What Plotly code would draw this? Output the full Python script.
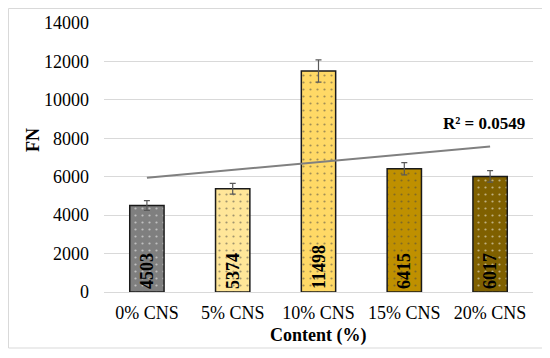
import numpy as np
import plotly.graph_objects as go

categories = ["0% CNS", "5% CNS", "10% CNS", "15% CNS", "20% CNS"]
values = [4503, 5374, 11498, 6415, 6017]
errors = [250, 280, 580, 315, 300]
colors = ["#7F7F7F", "#FFE699", "#FFD966", "#BF9000", "#7F6000"]
y_ticks = [0, 2000, 4000, 6000, 8000, 10000, 12000, 14000]
r2_label = "R² = 0.0549"

FONT = "Liberation Serif, Times New Roman, serif"

# page has an 8px body margin; work in screen pixels and convert
OFF = 8
FW, FH = 550 - OFF, 358 - OFF
L, R, T, B = 104, 533, 23, 292  # plot area in screen pixels
W, H = R - L, B - T

def px(x):
    return (x - L) / W

def py(y):
    return (B - y) / H

# linear trendline from data
xs = np.arange(1, len(values) + 1)
slope, intercept = np.polyfit(xs, values, 1)
trend = slope * xs + intercept

fig = go.Figure()
fig.add_trace(go.Bar(
    x=categories, y=values,
    width=0.4,
    marker=dict(color=colors, line=dict(color="#1a1a1a", width=1.5),
                pattern=dict(shape=".", fgcolor="rgba(255,255,255,0.6)", size=7, solidity=0.08)),
    error_y=dict(type="data", array=errors, color="#595959", thickness=1.2, width=3),
    text=[str(v) for v in values], textposition="inside", insidetextanchor="start",
    textangle=-90, textfont=dict(family=FONT, size=18, color="black", weight="bold"),
    hoverinfo="skip", showlegend=False,
))
fig.add_trace(go.Scatter(
    x=categories, y=trend, mode="lines",
    line=dict(color="#808080", width=2), showlegend=False, hoverinfo="skip",
))

fig.add_annotation(x=px(527), y=py(123), xref="paper", yref="paper", text="<b>%s</b>" % r2_label,
                   showarrow=False, xanchor="right", yanchor="middle",
                   font=dict(family=FONT, size=17, color="black"))
fig.add_annotation(x=px(318), y=py(335), xref="paper", yref="paper", text="<b>Content (%)</b>",
                   showarrow=False, xanchor="center", yanchor="middle",
                   font=dict(family=FONT, size=18, color="black"))
fig.add_annotation(x=px(33), y=py(140), xref="paper", yref="paper", text="<b>FN</b>",
                   showarrow=False, xanchor="center", yanchor="middle", textangle=-90,
                   font=dict(family=FONT, size=18, color="black"))

fig.add_shape(type="rect", xref="paper", yref="paper",
              x0=px(OFF + 0.5), x1=px(543), y0=py(348), y1=py(OFF + 0.5),
              line=dict(color="#D9D9D9", width=1), fillcolor="rgba(0,0,0,0)", layer="below")

fig.update_layout(
    width=FW, height=FH,
    margin=dict(l=L - OFF, r=550 - R, t=T - OFF, b=358 - B),
    paper_bgcolor="white", plot_bgcolor="white",
    font=dict(family=FONT, size=18, color="black"),
    xaxis=dict(showgrid=False, showline=False, ticks="", tickfont=dict(size=18),
               automargin=False, ticklabelstandoff=8),
    yaxis=dict(range=[0, 14000], tickvals=y_ticks, tickformat="d", showgrid=True,
               gridcolor="#D9D9D9", gridwidth=1, zeroline=True, zerolinecolor="#D9D9D9",
               zerolinewidth=1, tickfont=dict(size=18), ticks="", showline=False,
               automargin=False, ticklabelstandoff=14),
)

fig.write_html("out.html")
